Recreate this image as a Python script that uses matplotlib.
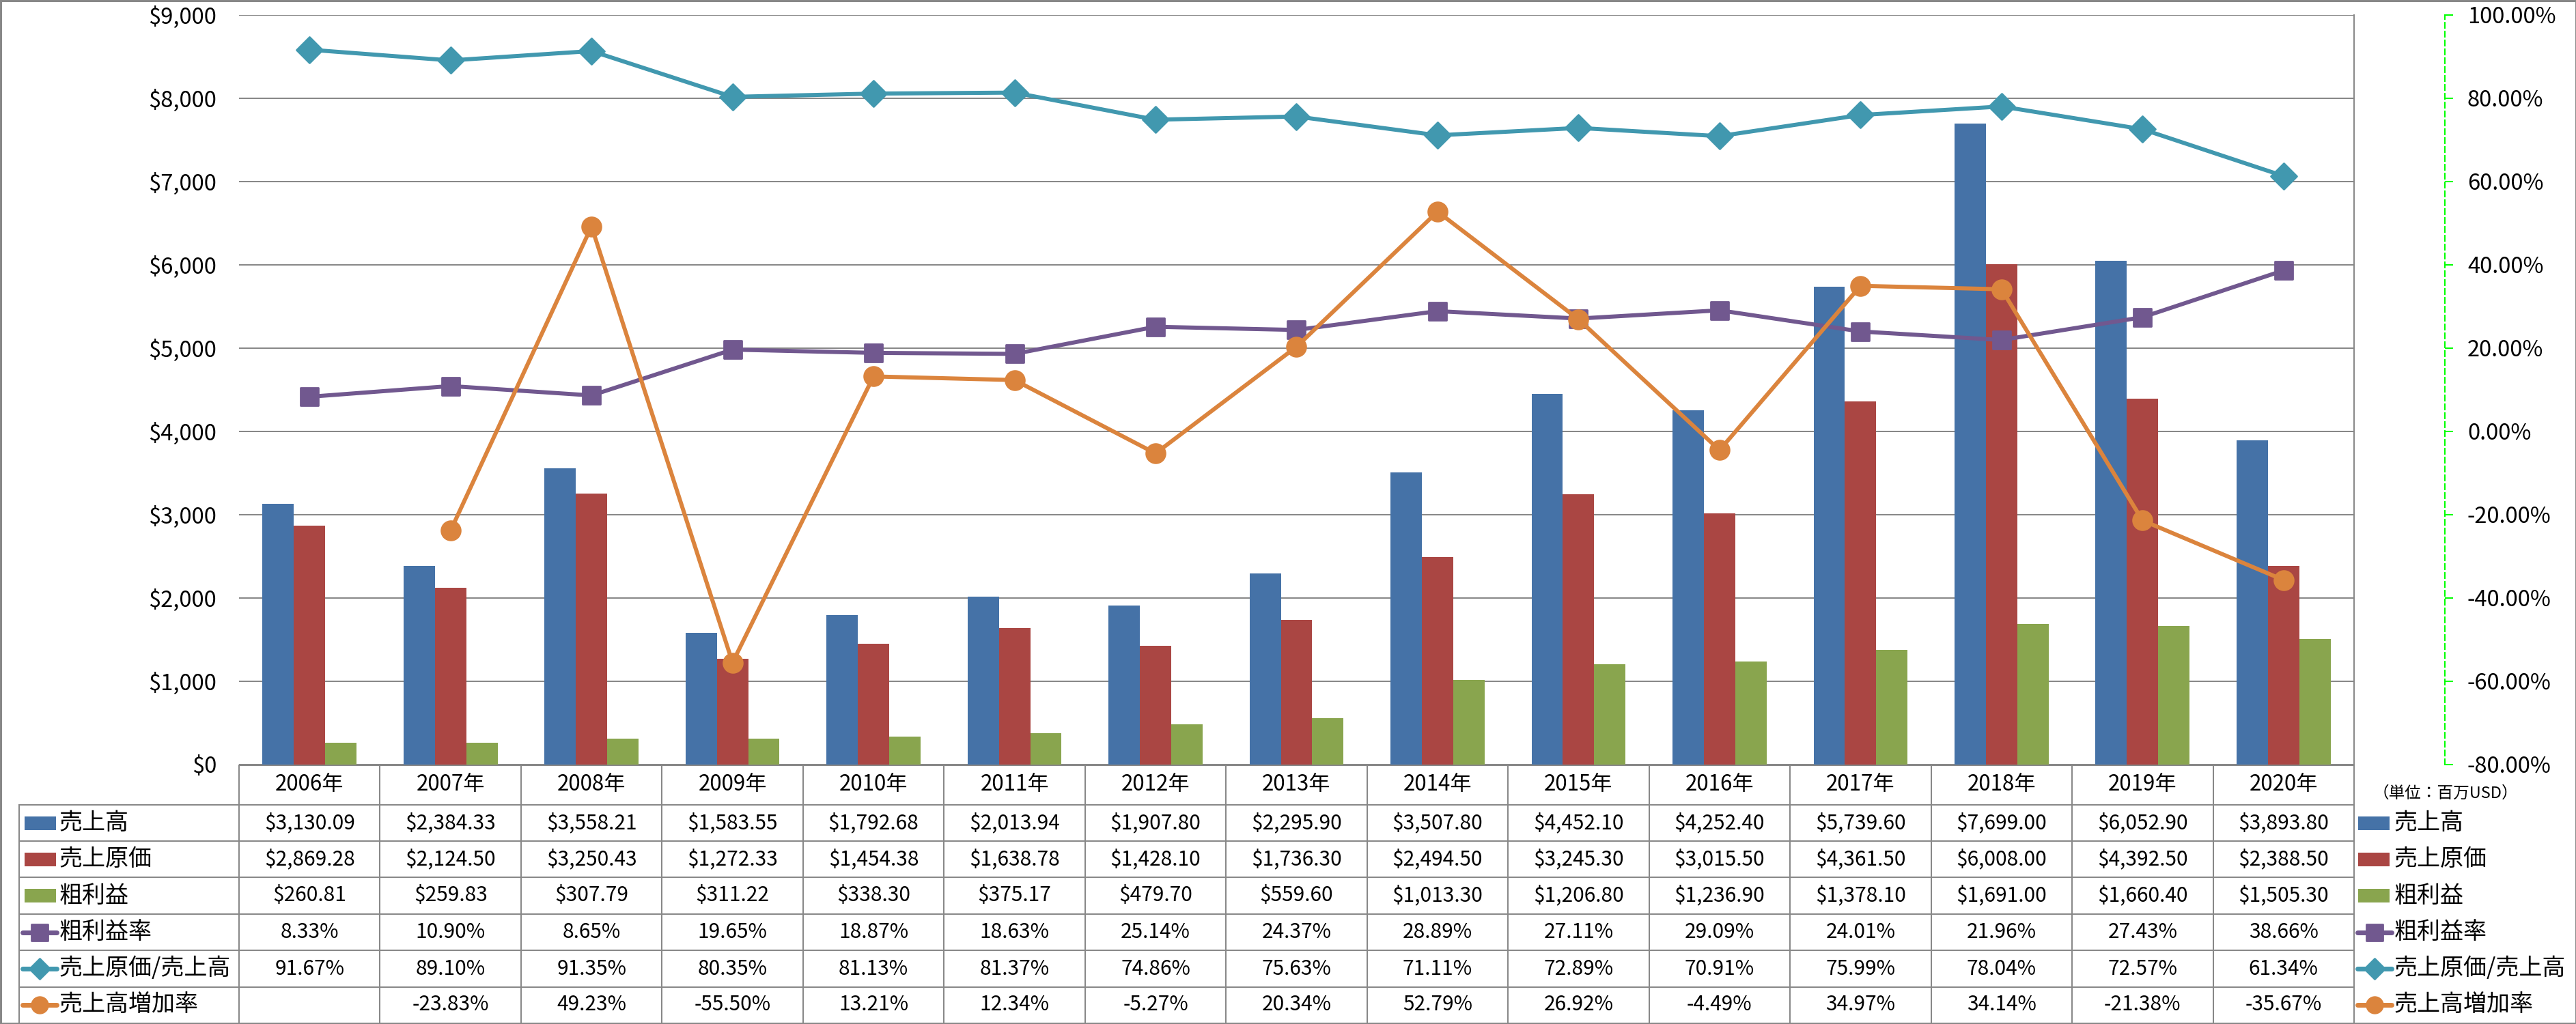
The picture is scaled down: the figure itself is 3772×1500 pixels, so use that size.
import matplotlib
matplotlib.use('Agg')
import matplotlib.pyplot as plt
import numpy as np
from matplotlib.markers import MarkerStyle
from matplotlib.patches import Rectangle

plt.rcParams['font.family'] = ['Noto Sans CJK JP', 'DejaVu Sans']

years = ['2006年', '2007年', '2008年', '2009年', '2010年', '2011年', '2012年', '2013年',
         '2014年', '2015年', '2016年', '2017年', '2018年', '2019年', '2020年']
sales = [3130.09, 2384.33, 3558.21, 1583.55, 1792.68, 2013.94, 1907.80, 2295.90,
         3507.80, 4452.10, 4252.40, 5739.60, 7699.00, 6052.90, 3893.80]
cost = [2869.28, 2124.50, 3250.43, 1272.33, 1454.38, 1638.78, 1428.10, 1736.30,
        2494.50, 3245.30, 3015.50, 4361.50, 6008.00, 4392.50, 2388.50]
gross = [260.81, 259.83, 307.79, 311.22, 338.30, 375.17, 479.70, 559.60,
         1013.30, 1206.80, 1236.90, 1378.10, 1691.00, 1660.40, 1505.30]
gross_rate = [8.33, 10.90, 8.65, 19.65, 18.87, 18.63, 25.14, 24.37,
              28.89, 27.11, 29.09, 24.01, 21.96, 27.43, 38.66]
cost_rate = [91.67, 89.10, 91.35, 80.35, 81.13, 81.37, 74.86, 75.63,
             71.11, 72.89, 70.91, 75.99, 78.04, 72.57, 61.34]
growth = [None, -23.83, 49.23, -55.50, 13.21, 12.34, -5.27, 20.34,
          52.79, 26.92, -4.49, 34.97, 34.14, -21.38, -35.67]

names = ['売上高', '売上原価', '粗利益', '粗利益率', '売上原価/売上高', '売上高増加率']
colors = ['#4572A7', '#AA4643', '#89A54E', '#71588F', '#4198AF', '#DB843D']
markers = [None, None, None, 's', 'D', 'o']

W = 3773
H = 1500
plot_left = 350
plot_right = 3447
plot_top = 22
plot_bottom = 1120
rows = [1179, 1232, 1285, 1339, 1392, 1446, 1498]
grid_col = '#888888'
PT = 0.72  # points per pixel at dpi 100


def money(v):
    return '${:,.2f}'.format(v)


def pct(v):
    if v is None:
        return ''
    return '{:.2f}%'.format(v)


def mk(m):
    return MarkerStyle(m, joinstyle='round')


# draws a legend key (bar patch or line with marker) with its text
def draw_key(tab, x, y, i, text_x):
    if markers[i] is None:
        tab.add_patch(Rectangle((x, y - 10), 46, 20, color=colors[i], lw=0))
    else:
        tab.plot([x, x + 50], [y, y], color=colors[i], lw=7 * PT, solid_capstyle='round')
        ms = 15 if markers[i] == 'D' else 17
        tab.plot([x + 25], [y], marker=mk(markers[i]), ms=ms, color=colors[i], mew=2)
    tab.text(text_x, y, names[i], fontsize=24.5, va='center', ha='left')


fig = plt.figure(figsize=(W / 100, H / 100), dpi=100)

ax = fig.add_axes([plot_left / W, (H - plot_bottom) / H,
                   (plot_right - plot_left) / W, (plot_bottom - plot_top) / H])
ax.set_zorder(2)
x = np.arange(len(years))
bw = 46 / 207
ax.bar(x - bw, sales, bw, color=colors[0])
ax.bar(x, cost, bw, color=colors[1])
ax.bar(x + bw, gross, bw, color=colors[2])
ax.set_xlim(-0.5, len(years) - 0.5)
ax.set_ylim(0, 9000)
ax.set_yticks(np.arange(0, 9001, 1000))
ax.yaxis.set_major_formatter(matplotlib.ticker.FuncFormatter(lambda v, p: '${:,.0f}'.format(v)))
ax.yaxis.tick_right()
ax.tick_params(axis='y', length=0, pad=33 * PT, labelsize=23.5)
ax.set_xticks([])
ax.grid(axis='y', color=grid_col, lw=2 * PT)
ax.set_axisbelow(True)
for s in ['left', 'top', 'bottom']:
    ax.spines[s].set_visible(False)
ax.spines['right'].set_color(grid_col)
ax.spines['right'].set_linewidth(2 * PT)

ax2 = ax.twinx()
gr = np.array([np.nan if v is None else v for v in growth])
ax2.plot(x, gross_rate, color=colors[3], lw=6 * PT, marker=mk('s'), ms=19, mew=2)
ax2.plot(x, cost_rate, color=colors[4], lw=6 * PT, marker=mk('D'), ms=19, mew=2)
ax2.plot(x, gr, color=colors[5], lw=6 * PT, marker=mk('o'), ms=20, mew=2)
ax2.set_ylim(-80, 100)
pticks = np.arange(-80, 101, 20)
ax2.set_yticks(pticks)
ax2.set_yticklabels(['{:.2f}%'.format(v) for v in pticks])
for lab, v in zip(ax2.get_yticklabels(), pticks):
    if v < 0:
        lab.set_color('#FF0000')
ax2.spines['right'].set_position(('outward', (3580 - plot_right) * PT))
ax2.spines['right'].set_color('#00FF00')
ax2.spines['right'].set_linestyle((0, (4, 2.5)))
ax2.spines['right'].set_linewidth(2 * PT)
for s in ['left', 'top', 'bottom']:
    ax2.spines[s].set_visible(False)
ax2.tick_params(axis='y', direction='out', length=12 * PT, width=2 * PT, color='#00FF00',
                pad=21 * PT, labelsize=23.5)
ax2.set_xticks([])

# data table and legend drawn in pixel space
tab = fig.add_axes([0, 0, 1, 1])
tab.set_zorder(1)
tab.set_xlim(0, W)
tab.set_ylim(H, 0)
tab.axis('off')
colw = (plot_right - plot_left) / len(years)
lk = dict(color=grid_col, lw=2 * PT)
tab.plot([plot_left, plot_right], [plot_bottom + 1, plot_bottom + 1], **lk)
for r in rows[:-1]:
    tab.plot([28, plot_right], [r, r], **lk)
tab.plot([28, 28], [rows[0], rows[-1]], **lk)
for j in range(len(years) + 1):
    cx = plot_left + j * colw
    tab.plot([cx, cx], [plot_bottom + 1, rows[-1]], **lk)

header_y = (plot_bottom + rows[0]) / 2
table_rows = [[money(v) for v in sales], [money(v) for v in cost], [money(v) for v in gross],
              [pct(v) for v in gross_rate], [pct(v) for v in cost_rate], [pct(v) for v in growth]]
for j in range(len(years)):
    cx = plot_left + (j + 0.5) * colw
    tab.text(cx, header_y, years[j], fontsize=22.5, ha='center', va='center')
    for i in range(6):
        cy = (rows[i] + rows[i + 1]) / 2
        tab.text(cx, cy, table_rows[i][j], fontsize=21.5, ha='center', va='center')

for i in range(6):
    cy = (rows[i] + rows[i + 1]) / 2
    draw_key(tab, 36 if markers[i] is None else 33, cy, i, 87)
    draw_key(tab, 3453 if markers[i] is None else 3452, cy, i, 3506)

tab.text(3581, 1162, '（単位：百万USD）', fontsize=17, ha='center', va='center')

# outer frame
fig.patches.append(Rectangle((0, 0), 1, 1, transform=fig.transFigure, fill=False,
                             edgecolor=grid_col, lw=5 * PT))

fig.savefig('out.png', dpi=100)
